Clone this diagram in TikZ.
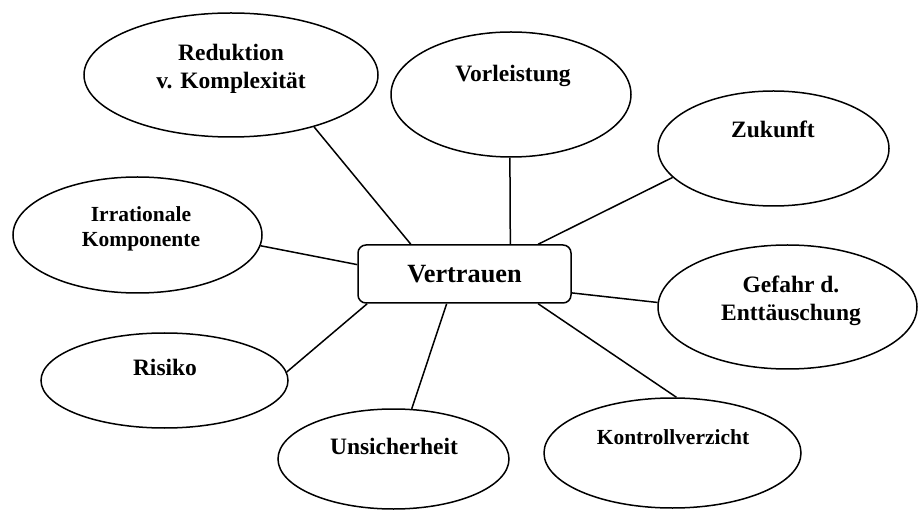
\documentclass[tikz,border=0pt]{standalone}
\usepackage{fontspec}
\setmainfont{Liberation Serif}
\usetikzlibrary{shapes.geometric}

\begin{document}
\begin{tikzpicture}[x=1pt, y=-1pt, line width=1.5pt,
  bubble/.style 2 args={draw, ellipse, inner sep=0pt, minimum width=#1, minimum height=#2},
  word/.style={font=\fontsize{23.5pt}{28.5pt}\selectfont\bfseries, align=center, anchor=base, inner sep=0pt},
  smallword/.style={word, font=\fontsize{21.5pt}{25.5pt}\selectfont\bfseries},
  centerbox/.style={draw, rounded corners=8pt, minimum width=213pt, minimum height=58pt,
    font=\fontsize{26.3pt}{30pt}\selectfont\bfseries}]

\useasboundingbox (0,0) rectangle (918,510);

\node[bubble={294pt}{124pt}] (reduktion) at (231,75) {};
\node[word] (reduktion-text) at (231,89) {Reduktion\\v. Komplexität};

\node[bubble={240pt}{125pt}] (vorleistung) at (511,94.5) {};
\node[word] (vorleistung-text) at (513,82) {Vorleistung};

\node[bubble={231pt}{115pt}] (zukunft) at (773.5,148.5) {};
\node[word] (zukunft-text) at (773,138) {Zukunft};

\node[bubble={249pt}{116pt}] (irrational) at (137.5,235) {};
\node[smallword] (irrational-text) at (141,247) {Irrationale\\Komponente};

\node[bubble={259pt}{124pt}] (gefahr) at (787.5,307) {};
\node[word] (gefahr-text) at (791,321) {Gefahr d.\\Enttäuschung};

\node[bubble={247pt}{95pt}] (risiko) at (164.5,380.5) {};
\node[word] (risiko-text) at (165,376) {Risiko};

\node[bubble={231pt}{100pt}] (unsicherheit) at (393.5,459) {};
\node[word] (unsicherheit-text) at (394,454) {Unsicherheit};

\node[bubble={257pt}{110pt}] (kontroll) at (672.5,453) {};
\node[smallword] (kontroll-text) at (673,444) {Kontrollverzicht};

\node[centerbox] (vertrauen) at (464.5,274) {Vertrauen};

\draw (reduktion.-32) -- (vertrauen.151);
\draw (vorleistung.-91) -- (vertrauen.33);
\draw (zukunft.-164) -- (vertrauen.22);
\draw (irrational.-5) -- (vertrauen.175);
\draw (risiko.4) -- (vertrauen.-163);
\draw (unsicherheit.70) -- (vertrauen.-121);
\draw (gefahr.178) -- (vertrauen.-10);
\draw (kontroll.86) -- (vertrauen.-22);

\end{tikzpicture}
\end{document}
